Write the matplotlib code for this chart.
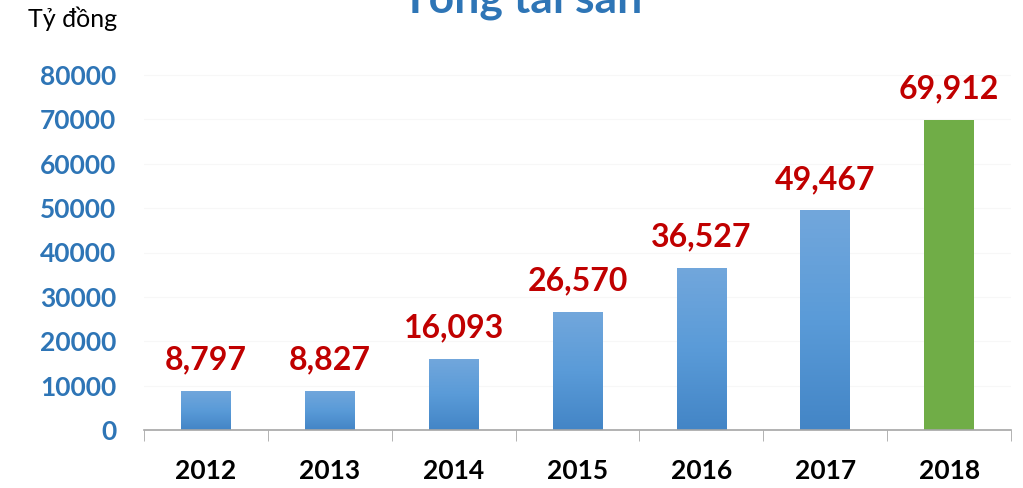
import numpy as np
import matplotlib
matplotlib.use('Agg')
import matplotlib.pyplot as plt
from matplotlib.colors import LinearSegmentedColormap

# data
years = ['2012', '2013', '2014', '2015', '2016', '2017', '2018']
assets = [8797, 8827, 16093, 26570, 36527, 49467, 69912]
y_ticks = [0, 10000, 20000, 30000, 40000, 50000, 60000, 70000, 80000]

FONT = ['Lato', 'DejaVu Sans']
plt.rcParams['font.family'] = FONT

fig = plt.figure(figsize=(10.23, 4.88), dpi=100)
ax = fig.add_axes([144 / 1023, 58 / 488, (1011 - 144) / 1023, (430 - 58) / 488])

x = np.arange(len(years))
bars = ax.bar(x, assets, width=0.4, color='#5b9bd5', zorder=2)

# blue gradient on all bars except the last one (green)
grad = LinearSegmentedColormap.from_list('blu', ['#4385c6', '#5a9bd8', '#72a7dc'])
g = np.linspace(0, 1, 256).reshape(-1, 1)
for i, b in enumerate(bars):
    if i == len(bars) - 1:
        b.set_facecolor('#70ad47')
        continue
    b.set_facecolor('none')
    x0, w, h = b.get_x(), b.get_width(), b.get_height()
    im = ax.imshow(g, cmap=grad, aspect='auto', origin='lower',
                   extent=(x0, x0 + w, 0, h), zorder=2)
    im.set_clip_path(b)

# value labels
for xi, v in zip(x, assets):
    ax.annotate(f'{v:,}', (xi, v), xytext=(0, 12), textcoords='offset points',
                ha='center', va='bottom', color='#c00000', fontsize=23,
                fontweight='bold')

ax.set_xlim(-0.5, len(years) - 0.5)
ax.set_ylim(0, 80000 * (430 - 58) / (430 - 75))
ax.set_yticks(y_ticks)
ax.set_yticklabels([str(t) for t in y_ticks], color='#2e75b6',
                   fontsize=19, fontweight='bold')
ax.set_xticks(x)
ax.set_xticklabels(years, fontsize=19, fontweight='bold', color='black')
ax.set_xticks(np.arange(-0.5, len(years)), minor=True)
ax.tick_params(axis='x', which='major', length=0, pad=21)
ax.tick_params(axis='x', which='minor', length=8, color='#a6a6a6')
ax.tick_params(axis='y', length=0, pad=20)

ax.grid(axis='y', color='#f7f7f7', linewidth=0.8, zorder=0)
ax.set_axisbelow(True)
for s in ['top', 'right', 'left']:
    ax.spines[s].set_visible(False)
ax.spines['bottom'].set_color('#a6a6a6')
ax.spines['bottom'].set_linewidth(1.2)

fig.text(28 / 1023, 1 - 27 / 488, 'Tỷ đồng', fontsize=18, color='black',
         ha='left', va='baseline')
fig.text(522 / 1023, 1 - 12 / 488, 'Tổng tài sản', fontsize=32,
         fontweight='bold', color='#2e75b6', ha='center', va='baseline')

fig.savefig('out.png', dpi=100)
